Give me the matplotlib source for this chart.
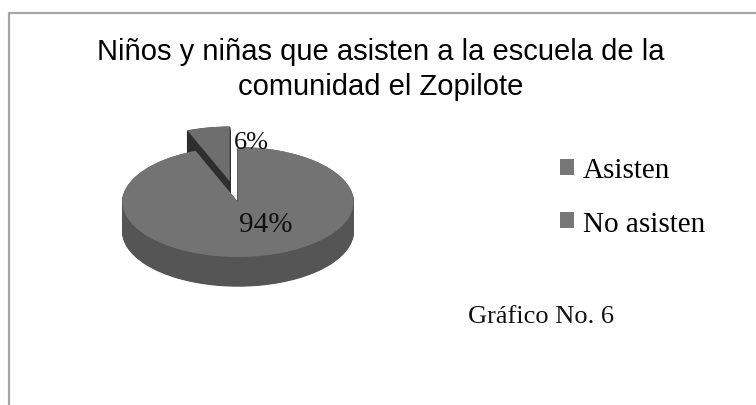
import matplotlib
matplotlib.use("Agg")
import matplotlib.pyplot as plt
from matplotlib.lines import Line2D

# data
labels = ["Asisten", "No asisten"]
values = [94, 6]
explode = [0, 0.38]

title_lines = ["Niños y niñas que asisten a la escuela de la",
               "comunidad el Zopilote"]
note = "Gráfico No. 6"

top_colors = ["#737373", "#6e6e6e"]
side_colors = ["#555555", "#2e2e2e"]

W, H = 756, 406
fig = plt.figure(figsize=(W / 100, H / 100), dpi=100)
fig.patch.set_facecolor("white")

# pie axes: 1 unit = 115.5 px in x, 55 px in y, centre at (238, 203)
ax = fig.add_axes([7 / W, 65.5 / H, 462 / W, 275 / H])

depth = 0.53
n_layers = 40
for k in range(n_layers, 0, -1):
    d = depth * k / n_layers
    ax.pie(values, explode=explode, colors=side_colors, startangle=90,
           counterclock=False, center=(0, -d), radius=1,
           wedgeprops=dict(linewidth=0.8))
    for w, c in zip(ax.patches[-2:], side_colors):
        w.set_edgecolor(c)

wedges, _ = ax.pie(values, explode=explode, colors=top_colors, startangle=90,
                   counterclock=False, radius=1,
                   wedgeprops=dict(linewidth=0))

ax.set_aspect("auto")
ax.set_xlim(-2, 2)
ax.set_ylim(-2.5, 2.5)
ax.axis("off")

serif = ["Liberation Serif", "DejaVu Serif"]
ax.text(0.24, -0.4, f"{values[0]}%", ha="center", va="center",
        fontsize=21, family=serif, color="#111111")
ax.text(0.12, 1.09, f"{values[1]}%", ha="center", va="center",
        fontsize=19, family=serif, color="#111111")

leg = fig.legend(wedges, labels, loc="upper left",
                 bbox_to_anchor=(560 / W, 1 - 158 / H),
                 frameon=False, prop=dict(family=serif, size=21),
                 handlelength=0.48, handleheight=0.48, handletextpad=0.3,
                 labelspacing=0.95, borderpad=0, borderaxespad=0)
for h in leg.legend_handles:
    h.set_facecolor("#777777")

sans = ["Liberation Sans", "DejaVu Sans"]
fig.text(381 / W, 1 - 60 / H, title_lines[0], ha="center", va="baseline",
         fontsize=21, family=sans, color="#000000")
fig.text(381 / W, 1 - 95 / H, title_lines[1], ha="center", va="baseline",
         fontsize=21, family=sans, color="#000000")

fig.text(468 / W, 1 - 323 / H, note, ha="left", va="baseline",
         fontsize=19, family=serif, color="#111111")

# chart frame (only top and left edges visible)
fig.add_artist(Line2D([9 / W, 9 / W, 1], [0, 1 - 14 / H, 1 - 14 / H],
                      color="#a6a6a6", linewidth=1.6))

fig.savefig("out.png", dpi=100)
